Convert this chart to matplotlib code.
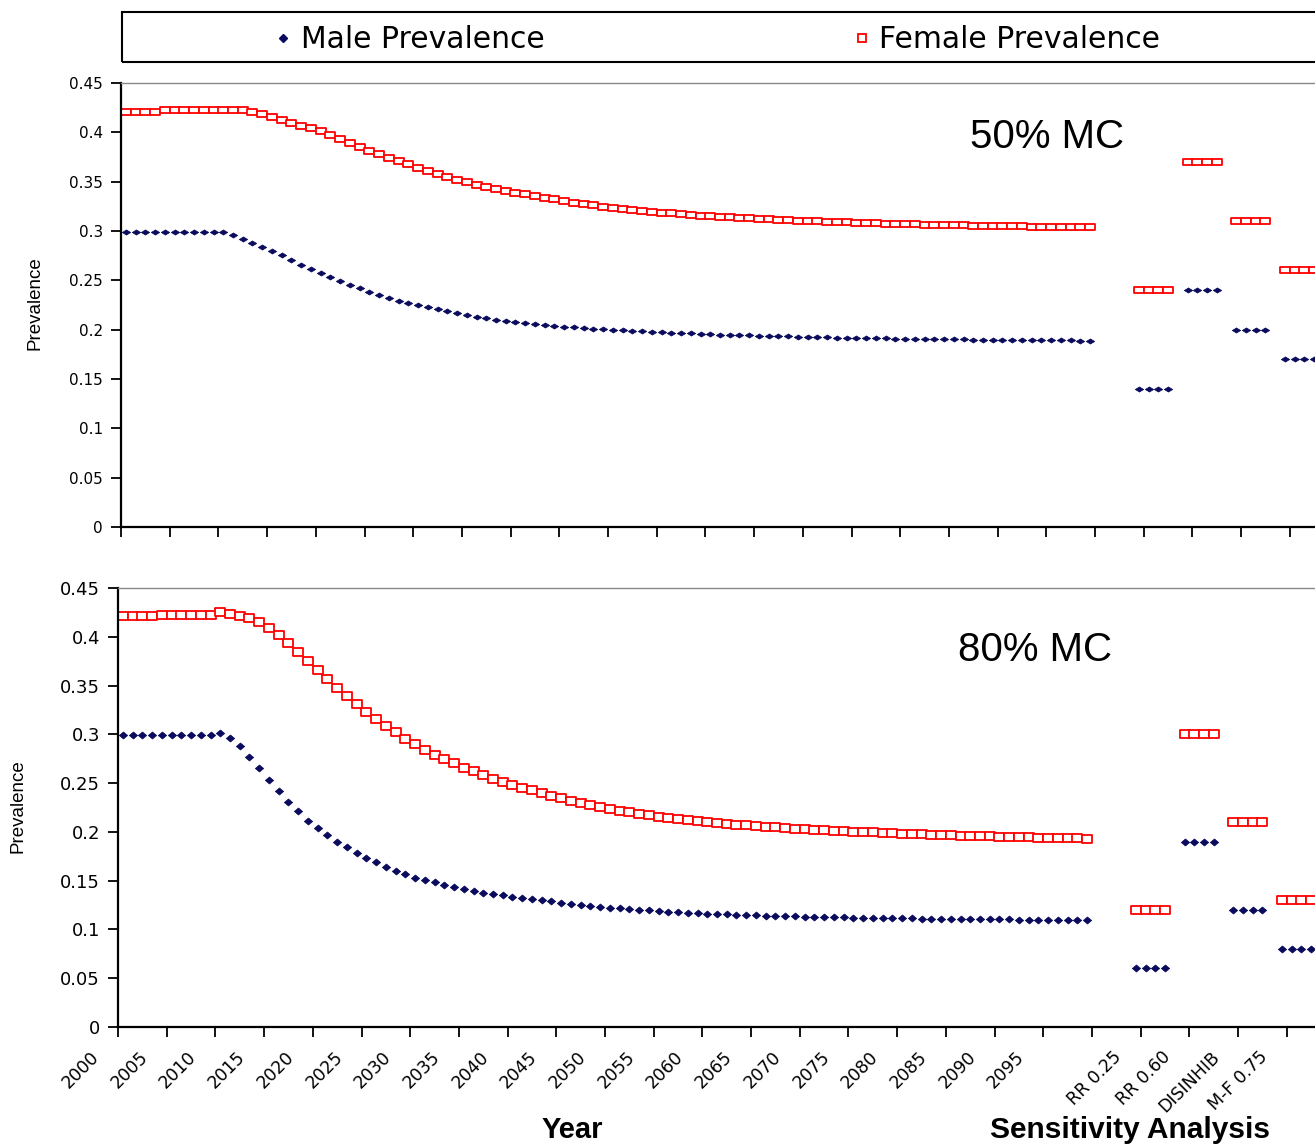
import numpy as np
import matplotlib
matplotlib.use("Agg")
import matplotlib.pyplot as plt
from matplotlib.lines import Line2D
from matplotlib.patches import Rectangle
from matplotlib.path import Path

# ---- data ----
years = list(range(2000, 2100))

male_50 = [0.299, 0.299, 0.299, 0.299, 0.299, 0.299, 0.299, 0.299, 0.299, 0.299,
           0.2985, 0.2955, 0.292, 0.288, 0.284, 0.280, 0.2755, 0.271, 0.266, 0.261,
           0.257, 0.253, 0.249, 0.2455, 0.242, 0.2385, 0.235, 0.232, 0.2295, 0.227,
           0.225, 0.2228, 0.2207, 0.219, 0.217, 0.215, 0.2133, 0.2116, 0.210, 0.2088,
           0.2076, 0.2066, 0.2057, 0.2048, 0.204, 0.2032, 0.2025, 0.2018, 0.2011, 0.2005,
           0.1999, 0.1993, 0.1988, 0.1983, 0.1978, 0.1974, 0.197, 0.1966, 0.1962, 0.1958,
           0.1955, 0.1951, 0.1948, 0.1945, 0.1942, 0.1939, 0.1936, 0.1933, 0.1931, 0.1928,
           0.1926, 0.1924, 0.1922, 0.192, 0.1918, 0.1916, 0.1914, 0.1913, 0.1911, 0.191,
           0.1908, 0.1907, 0.1906, 0.1904, 0.1903, 0.1902, 0.1901, 0.190, 0.1899, 0.1898,
           0.1897, 0.1896, 0.1895, 0.1894, 0.1893, 0.1893, 0.1892, 0.1891, 0.189, 0.189]

female_50 = [0.421, 0.421, 0.421, 0.421, 0.423, 0.423, 0.423, 0.423, 0.423, 0.423,
             0.423, 0.423, 0.4225, 0.421, 0.419, 0.416, 0.412, 0.409, 0.4065, 0.404,
             0.401, 0.397, 0.393, 0.389, 0.385, 0.3815, 0.378, 0.374, 0.371, 0.3675,
             0.364, 0.361, 0.358, 0.355, 0.352, 0.3495, 0.347, 0.3448, 0.3428, 0.341,
             0.339, 0.3375, 0.3355, 0.3337, 0.332, 0.3303, 0.3288, 0.3273, 0.326, 0.3247,
             0.3235, 0.3224, 0.3213, 0.3203, 0.3194, 0.3186, 0.3178, 0.317, 0.3163, 0.3157,
             0.315, 0.3144, 0.3138, 0.3133, 0.3128, 0.3123, 0.3118, 0.3114, 0.311, 0.3106,
             0.3102, 0.3098, 0.3094, 0.3091, 0.3088, 0.3085, 0.3082, 0.3079, 0.3076, 0.3073,
             0.307, 0.3068, 0.3065, 0.3063, 0.3061, 0.3059, 0.3057, 0.3055, 0.3053, 0.3051,
             0.305, 0.3048, 0.3046, 0.3045, 0.3043, 0.3042, 0.304, 0.3039, 0.3038, 0.3037]

male_80 = [0.299, 0.299, 0.299, 0.299, 0.299, 0.299, 0.299, 0.299, 0.299, 0.299,
           0.301, 0.296, 0.288, 0.277, 0.265, 0.253, 0.242, 0.231, 0.221, 0.2115,
           0.204, 0.197, 0.190, 0.184, 0.178, 0.173, 0.1688, 0.1643, 0.160, 0.1565,
           0.153, 0.1507, 0.1483, 0.1456, 0.143, 0.1411, 0.1394, 0.1377, 0.1363, 0.135,
           0.1336, 0.1324, 0.1312, 0.1301, 0.1288, 0.1275, 0.1263, 0.1252, 0.1242, 0.1232,
           0.1224, 0.1216, 0.1209, 0.1202, 0.1195, 0.1189, 0.1183, 0.1177, 0.1172, 0.1167,
           0.1162, 0.1158, 0.1154, 0.115, 0.1147, 0.1144, 0.1141, 0.1138, 0.1136, 0.1133,
           0.1131, 0.1129, 0.1127, 0.1125, 0.1123, 0.1121, 0.112, 0.1118, 0.1117, 0.1115,
           0.1114, 0.1113, 0.1111, 0.111, 0.1109, 0.1108, 0.1107, 0.1106, 0.1105, 0.1104,
           0.1103, 0.1102, 0.1101, 0.110, 0.1099, 0.1098, 0.1097, 0.1096, 0.1095, 0.1094]

female_80 = [0.4215, 0.4215, 0.4215, 0.4215, 0.4225, 0.4225, 0.4225, 0.4225, 0.4225, 0.4225,
             0.425, 0.4235, 0.4215, 0.4195, 0.4155, 0.409, 0.402, 0.394, 0.384, 0.375,
             0.366, 0.357, 0.348, 0.3395, 0.331, 0.3225, 0.3155, 0.3085, 0.302, 0.2955,
             0.290, 0.284, 0.279, 0.2745, 0.2703, 0.266, 0.262, 0.2585, 0.2545, 0.2515,
             0.2485, 0.2455, 0.2425, 0.2397, 0.237, 0.2345, 0.232, 0.2297, 0.2275, 0.2255,
             0.2235, 0.2217, 0.220, 0.2185, 0.217, 0.2157, 0.2144, 0.2132, 0.2121, 0.2111,
             0.2101, 0.2092, 0.2083, 0.2075, 0.2067, 0.206, 0.2053, 0.2046, 0.204, 0.2034,
             0.2028, 0.2022, 0.2017, 0.2012, 0.2007, 0.2002, 0.1998, 0.1994, 0.199, 0.1986,
             0.1982, 0.1978, 0.1975, 0.1971, 0.1968, 0.1965, 0.1962, 0.1959, 0.1956, 0.1953,
             0.1951, 0.1948, 0.1946, 0.1943, 0.1941, 0.1939, 0.1937, 0.1935, 0.1933, 0.1931]

sens_labels = ["RR 0.25", "RR 0.60", "DISINHIB", "M-F 0.75"]
sens_male_50 = [0.14, 0.24, 0.20, 0.17]
sens_female_50 = [0.24, 0.37, 0.31, 0.26]
sens_male_80 = [0.06, 0.19, 0.12, 0.08]
sens_female_80 = [0.12, 0.30, 0.21, 0.13]

# ---- layout helpers (pixels of a 1315x1145 canvas) ----
W, H = 1315, 1145
fig = plt.figure(figsize=(W / 100, H / 100), dpi=100)

def fx(px):
    return px / W

def fy(py):
    return 1 - py / H

BLUE = "#0b0b5e"
RED = "#ff0000"
cat_px = 9.74
n_cats = 125
reps = 4  # each sensitivity run is drawn as 4 points

diamond_flat = Path([(-1, 0), (0, 0.62), (1, 0), (0, -0.62), (-1, 0)],
                    [Path.MOVETO, Path.LINETO, Path.LINETO, Path.LINETO, Path.CLOSEPOLY])
diamond = Path([(-1, 0), (0, 0.85), (1, 0), (0, -0.85), (-1, 0)],
               [Path.MOVETO, Path.LINETO, Path.LINETO, Path.LINETO, Path.CLOSEPOLY])
rect_flat = Path([(-1, -0.58), (1, -0.58), (1, 0.58), (-1, 0.58), (-1, -0.58)],
                 [Path.MOVETO, Path.LINETO, Path.LINETO, Path.LINETO, Path.CLOSEPOLY])
rect = Path([(-1, -0.8), (1, -0.8), (1, 0.8), (-1, 0.8), (-1, -0.8)],
            [Path.MOVETO, Path.LINETO, Path.LINETO, Path.LINETO, Path.CLOSEPOLY])

SQ_MS = 7
DM_MS = 6


def make_panel(left, top, bottom, male, female, s_male, s_female, dmark, smark,
               tick_fs, show_labels):
    ax = fig.add_axes([fx(left), fy(bottom), n_cats * cat_px / W, (bottom - top) / H])
    x_years = np.arange(len(years))
    ax.plot(x_years, female, ls="none", marker=smark, ms=SQ_MS, mfc="white",
            mec=RED, mew=1.3, clip_on=False)
    ax.plot(x_years, male, ls="none", marker=dmark, ms=DM_MS, mfc=BLUE, mec=BLUE,
            mew=0.5, clip_on=False)
    for g in range(len(sens_labels)):
        start = len(years) + 4 + 5 * g
        xs = np.arange(start, start + reps)
        ax.plot(xs, [s_female[g]] * reps, ls="none", marker=smark, ms=SQ_MS,
                mfc="white", mec=RED, mew=1.3)
        ax.plot(xs, [s_male[g]] * reps, ls="none", marker=dmark, ms=DM_MS, mfc=BLUE,
                mec=BLUE, mew=0.5)

    ax.set_xlim(-0.5, n_cats - 0.5)
    ax.set_ylim(0, 0.45)
    ax.set_yticks(np.arange(0, 0.451, 0.05))
    ax.set_yticklabels(["0", "0.05", "0.1", "0.15", "0.2", "0.25", "0.3", "0.35",
                        "0.4", "0.45"], fontsize=tick_fs)
    tick_pos = np.arange(-0.5, n_cats, 5)
    ax.set_xticks(tick_pos)
    ax.set_xticklabels([])
    if show_labels:
        # rotated category labels, drawn by hand so they can sit left of the tick
        for k, pos in enumerate(tick_pos):
            i = 5 * k
            g = (i - len(years) - 5) // 5
            if i < len(years):
                lab = str(years[i])
            elif i > len(years) and 0 <= g < len(sens_labels):
                lab = sens_labels[g]
            else:
                continue
            ax.annotate(lab, xy=(pos, 0), xycoords=("data", "axes fraction"),
                        xytext=(-28, -21), textcoords="offset pixels",
                        rotation=45, ha="right", va="top", rotation_mode="anchor",
                        fontsize=12.5, annotation_clip=False)

    ax.tick_params(axis="both", direction="out", length=7, width=1.3, color="black",
                   pad=6)
    for side in ["left", "bottom"]:
        ax.spines[side].set_linewidth(1.6)
        ax.spines[side].set_color("black")
    ax.spines["top"].set_color("#8a8a8a")
    ax.spines["top"].set_linewidth(1.0)
    ax.spines["right"].set_visible(False)
    return ax


ax1 = make_panel(121, 83, 527, male_50, female_50, sens_male_50, sens_female_50,
                 diamond_flat, rect_flat, 11, False)
ax2 = make_panel(118, 588, 1027, male_80, female_80, sens_male_80, sens_female_80,
                 diamond, rect, 13, True)

# panel annotations
fig.text(fx(970), fy(148), "50% MC", fontsize=29, family="Liberation Sans")
fig.text(fx(958), fy(661), "80% MC", fontsize=29, family="Liberation Sans")

fig.text(fx(35), fy(303), "Prevalence", rotation=90, ha="center", va="center",
         fontsize=13.5, family="Liberation Sans")
fig.text(fx(18), fy(806), "Prevalence", rotation=90, ha="center", va="center",
         fontsize=13.5, family="Liberation Sans")

fig.text(fx(572), fy(1138), "Year", ha="center", va="baseline", fontsize=21,
         fontweight="bold", family="Liberation Sans")
fig.text(fx(1130), fy(1138), "Sensitivity Analysis", ha="center", va="baseline",
         fontsize=21.5, fontweight="bold", family="Liberation Sans")

# legend box (runs off the right edge like the original)
fig.add_artist(Rectangle((fx(122), fy(62)), fx(1400 - 122), (62 - 12) / H,
                         transform=fig.transFigure, fill=False, ec="black", lw=1.5))
fig.add_artist(Line2D([fx(283)], [fy(38)], transform=fig.transFigure, ls="none",
                      marker="D", ms=4.5, mfc=BLUE, mec=BLUE))
fig.text(fx(301), fy(39), "Male Prevalence", va="center", fontsize=21.5)
fig.add_artist(Line2D([fx(862)], [fy(38)], transform=fig.transFigure, ls="none",
                      marker="s", ms=6, mfc="white", mec=RED, mew=1.3))
fig.text(fx(879), fy(39), "Female Prevalence", va="center", fontsize=21.5)

fig.savefig("out.png", dpi=100)
